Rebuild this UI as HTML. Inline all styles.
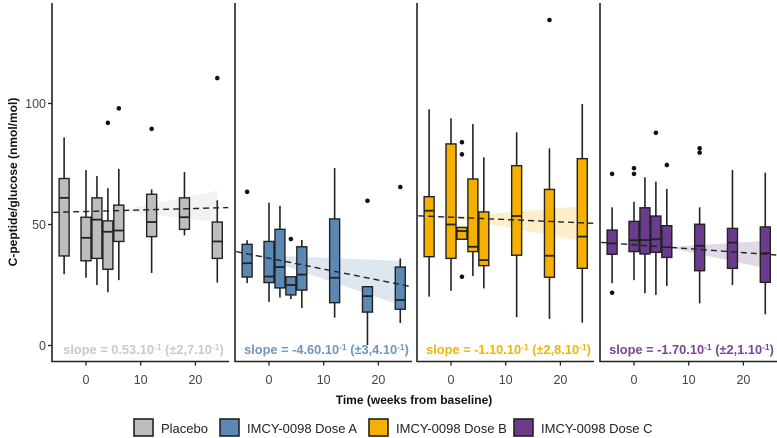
<!DOCTYPE html>
<html><head><meta charset="utf-8">
<style>
html,body{margin:0;padding:0;background:#fff;}
svg{display:block;font-family:"Liberation Sans",Arial,sans-serif;}
</style></head>
<body>
<svg id="chart" width="777" height="438" viewBox="0 0 777 438"></svg>
<script>
// ---- data ----
const panelNames = ["Placebo","IMCY-0098 Dose A","IMCY-0098 Dose B","IMCY-0098 Dose C"];
const panelFill = ["#bdbdbd","#5b89b5","#f5b000","#6b3c8e"];
const panelText = ["#c9c9c9","#6c96c0","#f5b400","#7a4499"];
const slopeLabels = ["0.53.10","-4.60.10","-1.10.10","-1.70.10"];
const slopeErr = ["2,7.10","3,4.10","2,8.10","2,1.10"];
const timePoints = [-4,0,2,4,6,12,18,24];
const yTicks = [0,50,100];
const xTicks = [0,10,20];
// per panel: [low, q1, median, q3, high] per time point
const statsPlacebo = [[29.5,37,61,69,86],[28,35,44.5,53,72.5],[25,36,52,61,70],[22,31.5,47,51.5,65],[27,43,47.5,58,73],[30,45,51,62.5,64.5],[45.5,48,53,61,71.7],[26,36,43,51,60]];
const statsDoseA = [[25.8,28.3,34,41.8,43.5],[18,26,28.5,43,59],[19.8,23.8,32.4,48,57.7],[19.2,20.9,25,28.4,28.4],[15.5,22.9,29.3,40.8,43.6],[11.5,17.7,28,52.3,73.3],[0.2,13.8,20.4,24.3,24.3],[9.3,15,18.8,32.4,36]];
const statsDoseB = [[20.2,36.7,55.7,61.5,97.6],[22.6,36,50,83.3,93.9],[43.9,43.9,47.3,48.8,48.8],[28.7,38.8,40.8,68.8,91.5],[23.6,33,35.3,55.2,77.8],[11.7,37.3,53.5,74.3,88.1],[11,28.2,37.1,64.5,81.5],[9.4,31.9,45,77.2,99.8]];
const statsDoseC = [[25.7,37.7,42.2,47.7,57.1],[27,38.8,43.5,51.3,59.4],[21.6,37.8,43.6,56.9,69.5],[20.9,38.5,43.9,53.5,67.7],[24.6,36.4,40.6,49.5,64.7],[17.4,30.9,41.2,50.1,57.1],[25,31.9,42.5,48.4,72.5],[12.9,26.1,38.1,49,71.4]];
// outliers [time, value]
const outPlacebo = [[4,92],[6,98],[12,89.5],[24,110.5]];
const outDoseA = [[-4,63.5],[4,44],[18,59.8],[24,65.5]];
const outDoseB = [[2,84],[2,79],[2,28.4],[18,134.5]];
const outDoseC = [[-4,70.9],[-4,21.8],[0,73.3],[0,70.9],[4,87.9],[6,74.6],[12,81.5],[12,79.7]];
// trend line value at t=-6 and t=26
const trendStart = [55,38.8,53.6,42.6];
const trendEnd = [57,24.3,50.5,37.4];
// ribbon: start time, lower/upper value at t=24
const ribbonStartT = [6,-3,0,6];
const ribbonLo24 = [51,16.7,43.2,31.9];
const ribbonHi24 = [64,35,57.6,43.2];

const allStats=[statsPlacebo,statsDoseA,statsDoseB,statsDoseC];
const allOut=[outPlacebo,outDoseA,outDoseB,outDoseC];

// ---- layout ----
const NS="http://www.w3.org/2000/svg";
const svg=document.getElementById('chart');
const panelLeft=[52,235,417,600], panelW=177;
const yTop=3, yBot=361.5;
function yS(v){return 345.5 - v*2.42;}
function xS(p,t){return panelLeft[p] + 34 + t*5.47;}
function mk(tag,attrs,parent){const e=document.createElementNS(NS,tag);for(const k in attrs)e.setAttribute(k,attrs[k]);(parent||svg).appendChild(e);return e;}

yTicks.forEach(v=>{
  const t=mk('line',{x1:48,x2:52,y1:yS(v),y2:yS(v),stroke:'#222','stroke-width':1.3});
  
  
  const l=mk('text',{x:46,y:yS(v)+4.5,'text-anchor':'end','font-size':12.5,fill:'#444'});
  l.textContent=v;
  
  
});
const yt=mk('text',{x:0,y:0,transform:'translate(17,182) rotate(-90)','text-anchor':'middle','font-size':12,'font-weight':'bold',fill:'#111'});
yt.textContent='C-peptide/glucose (nmol/mol)';



for(let p=0;p<4;p++){
  const g=mk('g',{});
  
  
  const L=panelLeft[p], R=L+panelW;
  const tS=ribbonStartT[p];
  const lineAt=t=>trendStart[p]+(trendEnd[p]-trendStart[p])*(t+6)/32;
  const rib=mk('polygon',{points:`${xS(p,tS)},${yS(lineAt(tS))} ${xS(p,24)},${yS(ribbonHi24[p])} ${xS(p,24)},${yS(ribbonLo24[p])}`,fill:panelFill[p],opacity:0.2},g);
  
  
  allStats[p].forEach((s,i)=>{
    const t=timePoints[i], cx=xS(p,t), hw=5;
    const b=mk('g',{},g);
    
    
    mk('line',{x1:cx,x2:cx,y1:yS(s[4]),y2:yS(s[3]),stroke:'#222','stroke-width':1.6},b);
    mk('line',{x1:cx,x2:cx,y1:yS(s[1]),y2:yS(s[0]),stroke:'#222','stroke-width':1.6},b);
    mk('rect',{x:cx-hw,y:yS(s[3]),width:2*hw,height:Math.max(0.5,yS(s[1])-yS(s[3])),fill:panelFill[p],stroke:'#222','stroke-width':1.4},b);
    mk('line',{x1:cx-hw,x2:cx+hw,y1:yS(s[2]),y2:yS(s[2]),stroke:'#222','stroke-width':1.8},b);
  });
  allOut[p].forEach(o=>{
    const c=mk('circle',{cx:xS(p,o[0]),cy:yS(o[1]),r:2.3,fill:'#111'},g);
    
    
  });
  const tr=mk('line',{x1:xS(p,-6),x2:xS(p,26),y1:yS(trendStart[p]),y2:yS(trendEnd[p]),stroke:'#222','stroke-width':1.4,'stroke-dasharray':'6,4'},g);
  
  
  const ax=mk('path',{d:`M${L},${yTop} L${L},${yBot} L${R},${yBot}`,fill:'none',stroke:'#222','stroke-width':1.6},g);
  
  
  xTicks.forEach(v=>{
    const t=mk('line',{x1:xS(p,v),x2:xS(p,v),y1:yBot,y2:yBot+4,stroke:'#222','stroke-width':1.3},g);
    
    
    const l=mk('text',{x:xS(p,v),y:384,'text-anchor':'middle','font-size':12.5,fill:'#444'},g);
    l.textContent=v;
    
    
  });
  const st=mk('text',{x:L+panelW/2+3,y:354,'text-anchor':'middle','font-size':12.8,'font-weight':'bold',fill:panelText[p]},g);
  st.innerHTML='slope = '+slopeLabels[p]+'<tspan dy="-4" font-size="8.5">-1</tspan><tspan dy="4"> (±'+slopeErr[p]+'</tspan><tspan dy="-4" font-size="8.5">-1</tspan><tspan dy="4">)</tspan>';
  
  
}
const xt=mk('text',{x:414,y:404,'text-anchor':'middle','font-size':12,'font-weight':'bold',fill:'#111'});
xt.textContent='Time (weeks from baseline)';



const legX=[133,219,368,513];
for(let p=0;p<4;p++){
  const g=mk('g',{});
  
  
  mk('rect',{x:legX[p]+1,y:419,width:19,height:17,fill:panelFill[p],stroke:'#222','stroke-width':1.6},g);
  const t=mk('text',{x:legX[p]+28,y:433,'font-size':13,fill:'#222'},g);
  t.textContent=panelNames[p];
}
</script>
</body></html>
